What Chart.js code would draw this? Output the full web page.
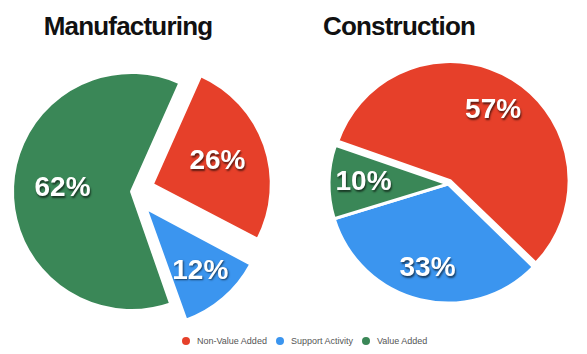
<!DOCTYPE html>
<html>
<head>
<meta charset="utf-8">
<script src="https://cdn.jsdelivr.net/npm/chart.js@4.4.1/dist/chart.umd.min.js"></script>
<style>
  body { margin: 0; background: #fff; font-family: "Liberation Sans", Arial, sans-serif; }
  #wrap { position: relative; width: 587px; height: 354px; overflow: hidden; }
  .title { position: absolute; top: 13px; width: 200px; text-align: center; font-weight: bold;
           font-size: 26px; line-height: 26px; letter-spacing: -0.8px; color: #111; }
  .box { position: absolute; top: 60px; width: 293px; height: 264px; }
  #legend { position: absolute; top: 335px; left: 182px; display: flex; align-items: center;
            font-size: 9px; line-height: 12px; color: #555; white-space: nowrap; }
  #legend span.dot { display: inline-block; width: 8px; height: 8px; border-radius: 50%; margin-right: 7px; }
  #legend span.txt { margin-right: 9px; }
</style>
</head>
<body>
<div id="wrap">
  <div class="title" style="left:28px">Manufacturing</div>
  <div class="title" style="left:299px">Construction</div>
  <div class="box" style="left:0"><canvas id="manChart"></canvas></div>
  <div class="box" style="left:294px"><canvas id="conChart"></canvas></div>
  <div id="legend"></div>
</div>
<script>
const categories = ["Non-Value Added", "Support Activity", "Value Added"];
const manufacturing = [26, 12, 62];
const construction = [57, 33, 10];
const colors = ["#e6402a", "#3b95ef", "#3a8757"];

// chart.js grows narrow offset slices a little, keep every slice at the same radius
const keepRadius = {
  id: "keepRadius",
  beforeDatasetsDraw(chart) {
    const meta = chart.getDatasetMeta(0);
    const R = meta.controller.outerRadius;
    meta.data.forEach((arc) => {
      const shift = (arc.options.offset || 0) / 4;
      const span = arc.endAngle - arc.startAngle;
      arc.outerRadius = R - shift * (1 - Math.sin(Math.min(Math.PI, span)));
    });
  }
};

// white percentage labels with a dark drop shadow
const pctLabels = {
  id: "pctLabels",
  afterDatasetsDraw(chart, args, opts) {
    const ctx = chart.ctx;
    const ds = chart.data.datasets[0];
    const meta = chart.getDatasetMeta(0);
    const R = meta.controller.outerRadius;
    ctx.save();
    ctx.font = 'bold 28px "Liberation Sans", Arial, sans-serif';
    ctx.fillStyle = "#fff";
    ctx.textAlign = "center";
    ctx.textBaseline = "middle";
    ctx.shadowColor = "rgba(0,0,0,0.6)";
    ctx.shadowOffsetX = 1;
    ctx.shadowOffsetY = 1.5;
    ctx.shadowBlur = 2;
    meta.data.forEach((arc, i) => {
      const mid = (arc.startAngle + arc.endAngle) / 2;
      const shift = (arc.options.offset || 0) / 4;
      const r = R * opts.radius[i] + shift;
      ctx.fillText(ds.data[i] + "%", arc.x + Math.cos(mid) * r, arc.y + Math.sin(mid) * r);
    });
    ctx.restore();
  }
};

function makePie(id, values, rotation, offsets, padding, labelRadius) {
  return new Chart(document.getElementById(id), {
    type: "pie",
    data: {
      labels: categories,
      datasets: [{
        data: values,
        backgroundColor: colors,
        borderColor: "#fff",
        borderWidth: 3,
        offset: offsets,
        radius: 119,
        rotation: rotation,
      }],
    },
    options: {
      responsive: true,
      maintainAspectRatio: false,
      animation: false,
      layout: { padding: padding },
      plugins: {
        legend: { display: false },
        tooltip: { enabled: false },
        pctLabels: { radius: labelRadius },
      },
    },
    plugins: [keepRadius, pctLabels],
  });
}

makePie("manChart", manufacturing, 24, [88, 88, 0], { right: 30, bottom: 1 }, [0.58, 0.7, 0.58]);
makePie("conChart", construction, -71, [16, 0, 0], { left: 15, bottom: 16 }, [0.69, 0.73, 0.71]);

// html legend shared by both pies
const legend = document.getElementById("legend");
categories.forEach((c, i) => {
  legend.insertAdjacentHTML("beforeend",
    '<span class="dot" style="background:' + colors[i] + '"></span><span class="txt">' + c + "</span>");
});
</script>
</body>
</html>
